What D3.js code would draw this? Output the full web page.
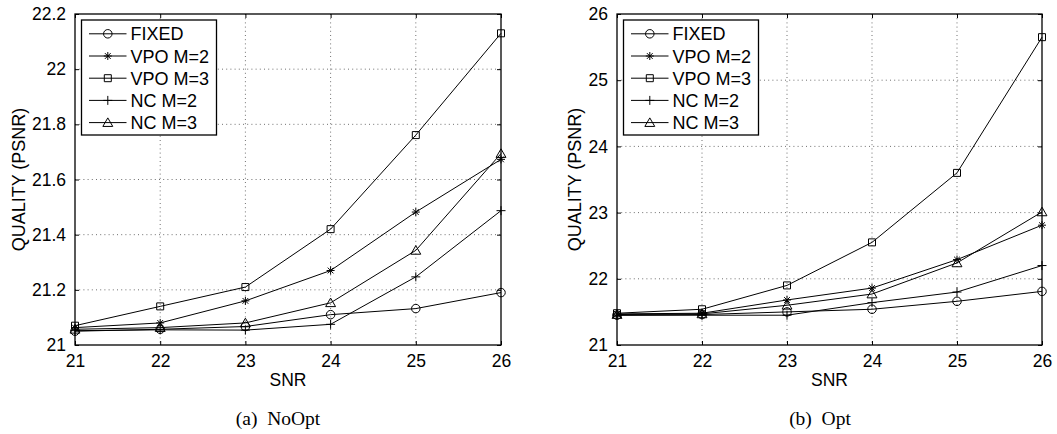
<!DOCTYPE html>
<html><head><meta charset="utf-8">
<script src="https://cdn.jsdelivr.net/npm/d3@7"></script>
<style>
html,body{margin:0;padding:0;background:#fff;}
svg{display:block;}
text{font-family:"Liberation Sans",Arial,sans-serif;fill:#000;}
text.caption{font-family:"Liberation Serif","Times New Roman",serif;}
</style></head>
<body>
<svg id="chart" width="1057" height="434"></svg>
<script>
// ---------- data ----------
const snr = [21, 22, 23, 24, 25, 26];
const seriesNames = ["FIXED", "VPO M=2", "VPO M=3", "NC M=2", "NC M=3"];
const seriesMarkers = ["circle", "star", "square", "plus", "triangle"];

const noOptFixed = [21.050, 21.057, 21.067, 21.110, 21.132, 21.190];
const noOptVpo2  = [21.063, 21.080, 21.160, 21.270, 21.482, 21.673];
const noOptVpo3  = [21.070, 21.140, 21.210, 21.420, 21.761, 22.130];
const noOptNc2   = [21.052, 21.055, 21.054, 21.075, 21.247, 21.487];
const noOptNc3   = [21.057, 21.063, 21.080, 21.153, 21.343, 21.694];

const optFixed = [21.45, 21.46, 21.50, 21.54, 21.66, 21.81];
const optVpo2  = [21.47, 21.48, 21.68, 21.86, 22.29, 22.81];
const optVpo3  = [21.48, 21.54, 21.90, 22.55, 23.60, 25.65];
const optNc2   = [21.45, 21.45, 21.45, 21.64, 21.80, 22.20];
const optNc3   = [21.46, 21.47, 21.60, 21.77, 22.24, 23.01];

const xTicks = [21, 22, 23, 24, 25, 26];
const noOptYTicks = [21, 21.2, 21.4, 21.6, 21.8, 22, 22.2];
const noOptYLabels = ["21", "21.2", "21.4", "21.6", "21.8", "22", "22.2"];
const optYTicks = [21, 22, 23, 24, 25, 26];
const optYLabels = ["21", "22", "23", "24", "25", "26"];

const xLabel = "SNR";
const yLabel = "QUALITY (PSNR)";
const captions = ["(a)\u00a0\u00a0NoOpt", "(b)\u00a0\u00a0Opt"];

// ---------- drawing ----------
const svg = d3.select("#chart");

function markerD(type) {
  const sizes = {circle: 8.5, square: 7, plus: 9, star: 8, triangle: 9};
  const h = sizes[type] / 2;
  switch (type) {
    case "circle": return `M${h},0A${h},${h} 0 1,1 ${-h},0A${h},${h} 0 1,1 ${h},0Z`;
    case "square": return `M${-h},${-h}H${h}V${h}H${-h}Z`;
    case "plus": return `M${-h},0H${h}M0,${-h}V${h}`;
    case "star": {
      const d = h * 0.72;
      return `M${-h},0H${h}M0,${-h}V${h}M${-d},${-d}L${d},${d}M${-d},${d}L${d},${-d}`;
    }
    case "triangle": return `M0,${-h * 1.05}L${h * 1.1},${h * 0.85}L${-h * 1.1},${h * 0.85}Z`;
  }
}

function panel(cfg) {
  const x = d3.scaleLinear().domain([21, 26]).range([cfg.x0, cfg.x1]);
  const y = d3.scaleLinear().domain([cfg.yTicks[0], cfg.yTicks[cfg.yTicks.length - 1]]).range([345, 14]);
  const g = svg.append("g");

  // grid
  const grid = g.append("g").attr("stroke", "#000").attr("stroke-width", 0.8)
    .attr("stroke-dasharray", "1,3.2").attr("opacity", 0.7);
  grid.selectAll(".gx").data(xTicks.slice(1, -1)).enter().append("line")
    .attr("x1", d => x(d)).attr("x2", d => x(d)).attr("y1", y.range()[1]).attr("y2", y.range()[0]);
  grid.selectAll(".gy").data(cfg.yTicks.slice(1, -1)).enter().append("line")
    .attr("y1", d => y(d)).attr("y2", d => y(d)).attr("x1", cfg.x0).attr("x2", cfg.x1);

  // axes (ticks inward)
  const xAxis = d3.axisBottom(x).tickValues(xTicks).tickSize(-4).tickPadding(10).tickFormat(d3.format("d"));
  const xAxisTop = d3.axisTop(x).tickValues(xTicks).tickSize(-4).tickFormat("");
  const yAxis = d3.axisLeft(y).tickValues(cfg.yTicks).tickSize(-4).tickPadding(9)
    .tickFormat((d, i) => cfg.yLabels[i]);
  const yAxisR = d3.axisRight(y).tickValues(cfg.yTicks).tickSize(-4).tickFormat("");

  const styleAxis = sel => {
    sel.select(".domain").remove();
    sel.selectAll("line").attr("stroke", "#000").attr("stroke-width", 1);
    sel.selectAll("text").attr("font-size", 17.5).attr("font-family", "Liberation Sans, Arial, sans-serif");
  };
  g.append("g").attr("transform", `translate(0,345)`).call(xAxis).call(styleAxis);
  g.append("g").attr("transform", `translate(0,14)`).call(xAxisTop).call(styleAxis);
  g.append("g").attr("transform", `translate(${cfg.x0},0)`).call(yAxis).call(styleAxis);
  g.append("g").attr("transform", `translate(${cfg.x1},0)`).call(yAxisR).call(styleAxis);

  // box
  g.append("rect").attr("x", cfg.x0).attr("y", 14).attr("width", cfg.x1 - cfg.x0).attr("height", 331)
    .attr("fill", "none").attr("stroke", "#000").attr("stroke-width", 1.3);

  // series
  const line = d3.line().x((d, i) => x(snr[i])).y(d => y(d));
  cfg.series.forEach((vals, k) => {
    g.append("path").attr("d", line(vals)).attr("fill", "none").attr("stroke", "#000").attr("stroke-width", 1);
    g.selectAll(null).data(vals).enter().append("path")
      .attr("transform", (d, i) => `translate(${x(snr[i])},${y(d)})`)
      .attr("d", markerD(seriesMarkers[k]))
      .attr("fill", "none").attr("stroke", "#000").attr("stroke-width", 1);
  });

  // axis labels
  g.append("text").attr("x", (cfg.x0 + cfg.x1) / 2).attr("y", 386).attr("text-anchor", "middle")
    .attr("font-size", 17.5).text(xLabel);
  g.append("text").attr("transform", `translate(${cfg.ylabX},${(14 + 345) / 2}) rotate(-90)`)
    .attr("text-anchor", "middle").attr("font-size", 18).text(yLabel);

  // caption
  g.append("text").attr("class", "caption").attr("x", cfg.capX).attr("y", 425).attr("text-anchor", "middle")
    .attr("font-size", 19.5).text(cfg.caption);

  // legend
  const lx = cfg.x0 + 6.5, ly = 20, lw = 135, lh = 115;
  const leg = g.append("g");
  leg.append("rect").attr("x", lx).attr("y", ly).attr("width", lw).attr("height", lh)
    .attr("fill", "#fff").attr("stroke", "#000").attr("stroke-width", 1.3);
  seriesNames.forEach((name, k) => {
    const cy = ly + 13.8 + k * 22.2;
    leg.append("line").attr("x1", lx + 7.5).attr("x2", lx + 45).attr("y1", cy).attr("y2", cy)
      .attr("stroke", "#000").attr("stroke-width", 1);
    leg.append("path").attr("transform", `translate(${lx + 26.3},${cy})`).attr("d", markerD(seriesMarkers[k]))
      .attr("fill", "none").attr("stroke", "#000").attr("stroke-width", 1);
    leg.append("text").attr("x", lx + 49).attr("y", cy + 6.5).attr("font-size", 18).text(name);
  });
}

panel({x0: 75, x1: 501, yTicks: noOptYTicks, yLabels: noOptYLabels,
  series: [noOptFixed, noOptVpo2, noOptVpo3, noOptNc2, noOptNc3], ylabX: 25, capX: 278, caption: captions[0]});
panel({x0: 617, x1: 1042, yTicks: optYTicks, yLabels: optYLabels,
  series: [optFixed, optVpo2, optVpo3, optNc2, optNc3], ylabX: 581, capX: 820, caption: captions[1]});
</script>
</body></html>
